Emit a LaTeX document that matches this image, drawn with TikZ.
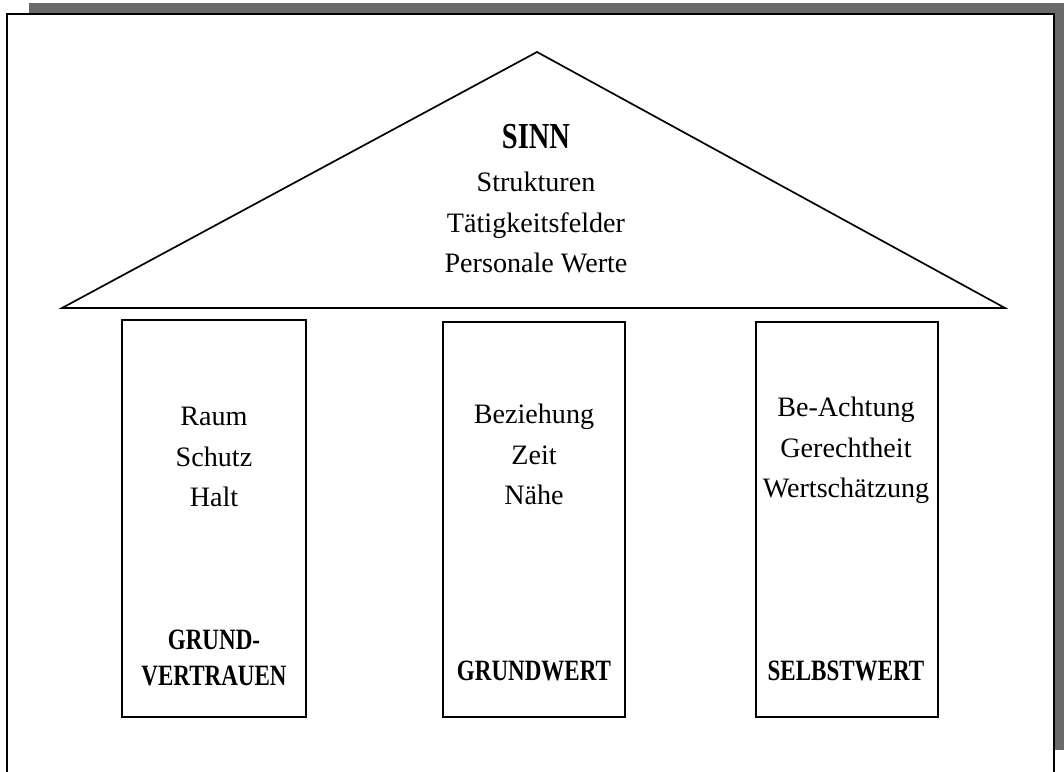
\documentclass[tikz,border=0pt]{standalone}
\usepackage{fontspec}
\setmainfont{Liberation Serif}
\newfontfamily\headfont[FakeStretch=0.78]{Liberation Serif}
\definecolor{shadowgray}{RGB}{106,106,106}
\begin{document}
\begin{tikzpicture}[x=0.025cm,y=-0.025cm,
  word/.style={font=\fontsize{20}{28.45}\selectfont,align=center,anchor=base},
  caps/.style={font=\headfont\bfseries\fontsize{21}{24.9}\selectfont,align=center,anchor=base}]
  \clip (0,0) rectangle (1064,771);
  % page frame with its shadow
  \fill[shadowgray] (29,3) rectangle (1064,750);
  \draw[fill=white,line width=1.2pt] (7,14) rectangle (1054,790);
  % roof
  \draw[line width=1.2pt,line join=miter] (62,308) -- (537,52) -- (1005,308) -- cycle;
  \node[caps,font=\headfont\bfseries\fontsize{26}{30}\selectfont] (sinn) at (536,148) {SINN};
  \node[word] (roof) at (536,272) {Strukturen\\Tätigkeitsfelder\\Personale Werte};
  % pillars
  \draw[line width=1.2pt] (122,320) rectangle (306,717);
  \draw[line width=1.2pt] (443,322) rectangle (625,717);
  \draw[line width=1.2pt] (756,322) rectangle (938,717);
  \node[word] (raum) at (214,506) {Raum\\Schutz\\Halt};
  \node[word] (bez) at (534,504) {Beziehung\\Zeit\\Nähe};
  \node[word] (acht) at (846,497) {Be-Achtung\\Gerechtheit\\Wertschätzung};
  \node[caps] (vertrauen) at (214,685) {GRUND-\\VERTRAUEN};
  \node[caps] (grundwert) at (534,680) {GRUNDWERT};
  \node[caps] (selbstwert) at (846,680) {SELBSTWERT};
\end{tikzpicture}
\end{document}
